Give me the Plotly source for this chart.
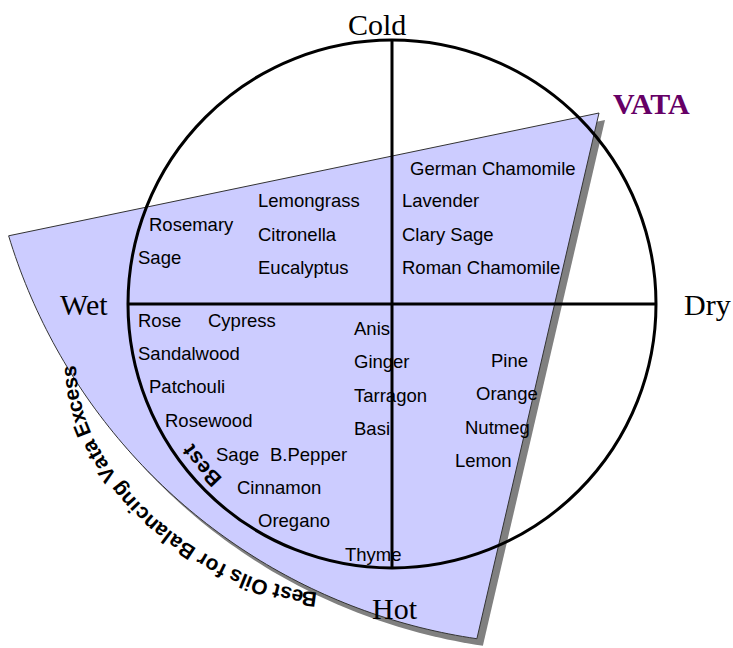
import math
import numpy as np
import plotly.graph_objects as go

W, H = 733, 648

# ---------------- content ----------------
axis_labels = ["Cold", "Wet", "Dry", "Hot"]
dosha_title = "VATA"
cold_wet_oils = ["Rosemary", "Sage", "Lemongrass", "Citronella", "Eucalyptus"]
cold_dry_oils = ["German Chamomile", "Lavender", "Clary Sage", "Roman Chamomile"]
hot_wet_oils = ["Rose", "Cypress", "Sandalwood", "Patchouli", "Rosewood",
                "Sage", "B.Pepper", "Cinnamon", "Oregano", "Thyme"]
hot_dry_oils = ["Anis", "Ginger", "Tarragon", "Basi", "Pine", "Orange", "Nutmeg", "Lemon"]
arc_caption = "Best Oils for Balancing Vata Excess"
inner_caption = "Best"

# ---------------- layout positions (pixels) ----------------
cold_wet_pos = [(149, 225), (138, 258), (258, 201), (258, 235), (258, 268)]
cold_dry_pos = [(410, 169), (402, 201), (402, 235), (402, 268)]
hot_wet_pos = [(138, 321), (208, 321), (138, 354), (149, 387), (165, 421),
               (216, 455), (270, 455), (237, 488), (258, 521), (345, 555)]
hot_dry_pos = [(354, 329), (354, 362), (354, 396), (354, 429),
               (491, 361), (476, 394), (465, 428), (455, 461)]
TEXT_DX, TEXT_DY = -2, -1
axis_label_pos = [(377, 24), (84, 304), (707, 304), (395, 608)]
title_pos = (651, 103)

# circle
CX, CY, CR = 392, 304, 264
# wedge: apex + points traced along its curved outer edge
APEX = (599, 113)
EDGE_START = (8, 236)
EDGE_END = (477, 638)
EDGE_TRACE = [(8, 236), (43.3, 330), (70, 366.7), (96.7, 406.7), (123, 443),
              (150, 473), (176.7, 500), (210, 526.7), (250, 556.7), (300, 583.3),
              (350, 603.3), (400, 623.3), (477, 638)]
SHADOW = (6, 7)
# path guide for the outer curved caption: (char index, x, y)
CAP_GUIDE = [(0, 309, 596.5), (3, 277, 596.5), (5, 262.5, 581), (8, 234, 574),
             (11, 210, 561), (14, 186, 555), (22, 123.3, 490), (24, 108, 472),
             (27, 93, 445), (29, 78, 430), (34, 71.5, 371.7)]
CAP_SHIFT = 1.5
INNER_R = 250.7
INNER_T0, INNER_T1 = 136.0, 144.3

SANS = "Arial, Liberation Sans, sans-serif"
SERIF = "Times New Roman, Liberation Serif, serif"

BOLD_W = {' ': 278, 'B': 722, 'e': 556, 's': 556, 't': 333, 'O': 778, 'i': 278,
          'l': 278, 'f': 333, 'o': 611, 'r': 389, 'a': 556, 'n': 611, 'c': 556,
          'g': 611, 'V': 667, 'E': 667, 'x': 556}


def fit_circle(pts):
    P = np.array(pts, dtype=float)
    A = np.column_stack([P[:, 0], P[:, 1], np.ones(len(P))])
    b = -(P[:, 0] ** 2 + P[:, 1] ** 2)
    D, E, F = np.linalg.lstsq(A, b, rcond=None)[0]
    cx, cy = -D / 2, -E / 2
    return cx, cy, math.sqrt(cx * cx + cy * cy - F)


ACX, ACY, AR = fit_circle(EDGE_TRACE)
ARC_T0 = math.degrees(math.atan2(EDGE_START[1] - ACY, EDGE_START[0] - ACX))
ARC_T1 = math.degrees(math.atan2(EDGE_END[1] - ACY, EDGE_END[0] - ACX))


def wedge_path(dx=0, dy=0):
    n = 90
    pts = [APEX]
    for i in range(n + 1):
        t = math.radians(ARC_T0 + (ARC_T1 - ARC_T0) * i / n)
        pts.append((ACX + AR * math.cos(t), ACY + AR * math.sin(t)))
    return "M " + " L ".join(f"{x + dx:.2f},{y + dy:.2f}" for x, y in pts) + " Z"


fig = go.Figure()

shapes = [
    dict(type="path", path=wedge_path(*SHADOW), fillcolor="#808080",
         line=dict(width=0), layer="below"),
    dict(type="path", path=wedge_path(), fillcolor="#CCCCFF",
         line=dict(color="#333333", width=1), layer="below"),
    dict(type="circle", x0=CX - CR, x1=CX + CR, y0=CY - CR, y1=CY + CR,
         line=dict(color="black", width=3)),
    dict(type="line", x0=CX, x1=CX, y0=CY - CR, y1=CY + CR,
         line=dict(color="black", width=3)),
    dict(type="line", x0=CX - CR, x1=CX + CR, y0=CY, y1=CY,
         line=dict(color="black", width=3)),
]
for s in shapes:
    s.update(xref="x", yref="y")

annotations = []


def add_text(txt, x, y, size, family, color="black", xanchor="left", bold=False):
    t = f"<b>{txt}</b>" if bold else txt
    annotations.append(dict(x=x, y=y, xref="x", yref="y", text=t, showarrow=False,
                            xanchor=xanchor, yanchor="middle",
                            font=dict(size=size, family=family, color=color)))


for names, poss in [(cold_wet_oils, cold_wet_pos), (cold_dry_oils, cold_dry_pos),
                    (hot_wet_oils, hot_wet_pos), (hot_dry_oils, hot_dry_pos)]:
    for nm, (x, y) in zip(names, poss):
        add_text(nm, x + TEXT_DX, y + TEXT_DY, 18.5, SANS)

for lab, (x, y) in zip(axis_labels, axis_label_pos):
    add_text(lab, x, y, 30, SERIF, xanchor="center")

add_text(dosha_title, title_pos[0], title_pos[1], 30, SERIF, color="#660066",
         xanchor="center", bold=True)


def char_offsets(text):
    offs, acc = [], 0
    for c in text:
        w = BOLD_W.get(c, 556)
        offs.append(acc + w / 2)
        acc += w
    return offs


def put_char(c, x, y, ang, size):
    while ang > 180:
        ang -= 360
    while ang <= -180:
        ang += 360
    annotations.append(dict(x=x, y=y, xref="x", yref="y", text=f"<b>{c}</b>",
                            showarrow=False, xanchor="center", yanchor="middle",
                            textangle=ang,
                            font=dict(size=size, family=SANS, color="black")))


def guided_text(text, guide, size, shift):
    offs = char_offsets(text)
    u = np.array([offs[i] for i, _, _ in guide])
    gx = np.array([x for _, x, _ in guide])
    gy = np.array([y for _, _, y in guide])
    px = np.polyfit(u, gx, 3)
    py = np.polyfit(u, gy, 3)
    dpx, dpy = np.polyder(px), np.polyder(py)
    for c, o in zip(text, offs):
        if c == ' ':
            continue
        x, y = np.polyval(px, o), np.polyval(py, o)
        dx, dy = np.polyval(dpx, o), np.polyval(dpy, o)
        n = math.hypot(dx, dy)
        ux, uy = dy / n, -dx / n  # letter "up" direction
        ang = math.degrees(math.atan2(dy, dx))
        put_char(c, float(x + shift * ux), float(y + shift * uy), ang, size)


def circle_text(text, cx, cy, R, th0, th1, size):
    offs = char_offsets(text)
    total = offs[-1] - offs[0]
    for c, o in zip(text, offs):
        if c == ' ':
            continue
        th = th0 + (th1 - th0) * (o - offs[0]) / total
        tr = math.radians(th)
        put_char(c, cx + R * math.cos(tr), cy + R * math.sin(tr), th + 90, size)


guided_text(arc_caption, CAP_GUIDE, 21, CAP_SHIFT)
circle_text(inner_caption, CX, CY, INNER_R, INNER_T0, INNER_T1, 21)

fig.update_layout(
    width=W, height=H, autosize=False,
    margin=dict(l=0, r=0, t=0, b=0, pad=0),
    paper_bgcolor="white", plot_bgcolor="white",
    xaxis=dict(range=[0, W], visible=False, fixedrange=True),
    yaxis=dict(range=[H, 0], visible=False, fixedrange=True),
    shapes=shapes, annotations=annotations, showlegend=False,
)

fig.write_html("out.html", config={"displayModeBar": False},
               post_script="document.body.style.margin='0';document.body.style.overflow='hidden';")
